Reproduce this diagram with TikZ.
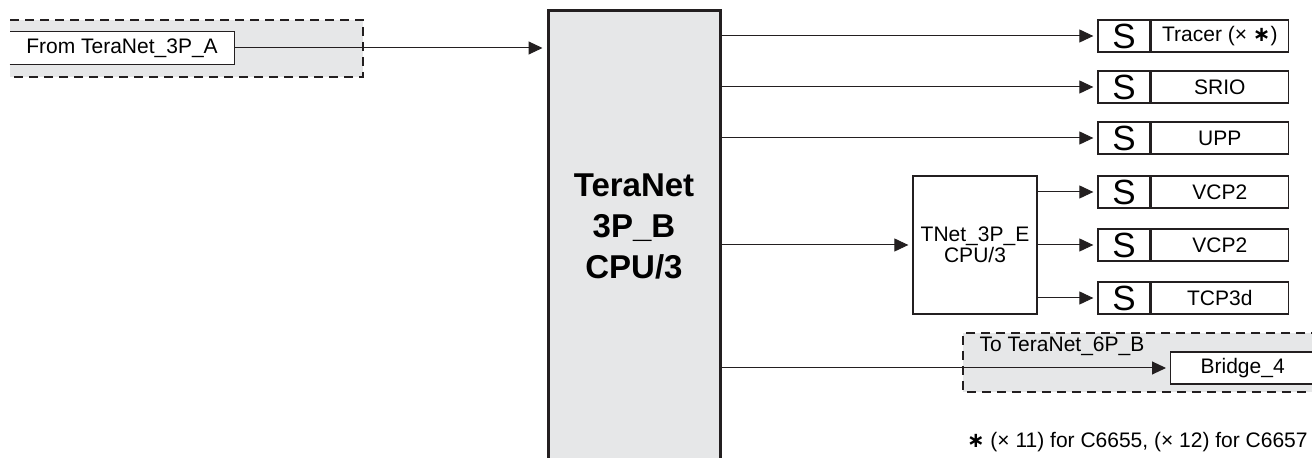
\documentclass[tikz,border=0pt]{standalone}
\usepackage{fontspec}
\setmainfont{Liberation Sans}
\newfontfamily\symfnt{DejaVu Sans}
\usetikzlibrary{arrows.meta,calc}
\definecolor{ink}{HTML}{231F20}
\definecolor{panel}{HTML}{E6E7E8}
\newcommand{\lbl}{\fontsize{10.5}{9}\selectfont}
\newcommand{\hub}{\fontsize{16.5}{20.5}\selectfont\bfseries}
\newcommand{\slv}{\fontsize{17.5}{18}\selectfont}
\newcommand{\strx}{{\symfnt\bfseries ∗}}

\begin{document}
\begin{tikzpicture}[x=0.5pt,y=-0.5pt,font=\lbl,
  wire/.style={ink,line width=0.5pt,-{Triangle[length=7pt,width=6.5pt]},shorten >=2pt},
  sbox/.style={draw=ink,line width=0.65pt,fill=white,inner sep=0,minimum width=26pt,minimum height=16pt,font=\slv},
  tbox/.style={draw=ink,line width=0.65pt,fill=white,inner sep=0,minimum width=68.5pt,minimum height=16pt,anchor=west},
  edge/.style={ink,line width=0.6pt,dash pattern=on 4.5pt off 3pt}]
\useasboundingbox (0,0) rectangle (1312,458);
% incoming side
\fill[panel] (10,20) rectangle (363,77);
\draw[edge] (10,20) -- (363,20) -- (363,77) -- (10,77);
\node[fill=white,inner sep=0,minimum width=112pt,minimum height=16pt] (frm) at (122,48) {From TeraNet\_3P\_A};
\draw[ink,line width=0.65pt] (frm.south west) -- (frm.south east) -- (frm.north east) -- (frm.north west);
% switch fabric
\node[draw=ink,line width=1.5pt,fill=panel,inner sep=0,minimum width=86pt,minimum height=229.5pt] (cpu) at (634,240.5) {};
\node[font=\hub,align=center,inner sep=0] (cpulbl) at (634,226) {TeraNet\\3P\_B\\CPU/3};
\draw[wire] (frm.east) -- (frm.east -| cpu.west);
% slaves
\node[sbox] (s1) at (1124,36) {S};
\node[tbox] (t1) at (s1.east) {Tracer (× \strx)};
\node[sbox] (s2) at (1124,87) {S};
\node[tbox] (t2) at (s2.east) {SRIO};
\node[sbox] (s3) at (1124,138) {S};
\node[tbox] (t3) at (s3.east) {UPP};
\node[sbox] (s4) at (1124,192) {S};
\node[tbox] (t4) at (s4.east) {VCP2};
\node[sbox] (s5) at (1124,245) {S};
\node[tbox] (t5) at (s5.east) {VCP2};
\node[sbox] (s6) at (1124,298) {S};
\node[tbox] (t6) at (s6.east) {TCP3d};
\node[draw=ink,line width=0.65pt,inner sep=0,minimum width=62pt,minimum height=69pt,align=center] (tn) at (975,245) {TNet\_3P\_E\\CPU/3};
\draw[wire] (cpu.east |- s1.west) -- (s1.west);
\draw[wire] (cpu.east |- s2.west) -- (s2.west);
\draw[wire] (cpu.east |- s3.west) -- (s3.west);
\draw[wire] (cpu.east |- tn.west) -- (tn.west);
\draw[wire] (tn.east |- s4.west) -- (s4.west);
\draw[wire] (tn.east |- s5.west) -- (s5.west);
\draw[wire] (tn.east |- s6.west) -- (s6.west);
% outgoing bridge
\fill[panel] (963,333) rectangle (1320,392);
\draw[edge] (1320,333) -- (963,333) -- (963,392) -- (1320,392);
\node[tbox,minimum width=72pt] (br) at (1170,368) {Bridge\_4};
\node[inner sep=0] (tolbl) at (1062,346) {To TeraNet\_6P\_B};
\draw[wire] (cpu.east |- br.west) -- (br.west);
\node[anchor=east,inner sep=0] (note) at (1308,442) {\strx\ (× 11) for C6655, (× 12) for C6657};
\end{tikzpicture}
\end{document}
